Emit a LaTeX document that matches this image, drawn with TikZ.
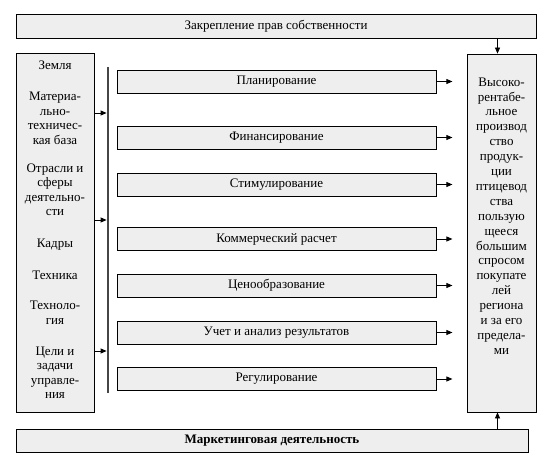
\documentclass[tikz,border=0pt]{standalone}
\usepackage{fontspec}
\setmainfont{Liberation Serif}
\usetikzlibrary{arrows.meta,positioning}
\begin{document}
\begin{tikzpicture}[x=1pt,y=-1pt,>={Triangle[length=6pt,width=5pt]},
  every node/.style={font=\fontsize{13}{14.5}\selectfont},
  panel/.style={draw,fill=gray!13,line width=0.8pt,inner sep=0pt},
  stepbox/.style={panel,minimum width=319pt,minimum height=23pt},
  item/.style={align=center,inner sep=0pt}]
  \useasboundingbox (0,0) rectangle (556,470);
  \node[panel,minimum width=520pt,minimum height=24pt] (rights) at (276,26) {Закрепление прав собственности};
  \node[panel,minimum width=78pt,minimum height=359pt] (src) at (55,232.5) {};
  \node[panel,minimum width=69pt,minimum height=358pt] (goal) at (501.5,233) {};
  \node[panel,minimum width=512pt,minimum height=23pt,font=\fontsize{13}{14.5}\selectfont\bfseries] (mkt) at (272,440.5) {Маркетинговая деятельность};
  \node[fill=gray!55!black,minimum width=2.4pt,minimum height=326pt,inner sep=0pt] (bar) at (108,230) {};
  % resources
  \node[item] (land) at (55,65) {Земля};
  \node[item] (base) at (55,118.5) {Материа-\\льно-\\техничес-\\кая база};
  \node[item] (branch) at (55,190) {Отрасли и\\сферы\\деятельно-\\сти};
  \node[item] (staff) at (55,245) {Кадры};
  \node[item] (tech) at (55,275) {Техника};
  \node[item] (techn) at (55,312.5) {Техноло-\\гия};
  \node[item] (aims) at (55,372.5) {Цели и\\задачи\\управле-\\ния};
  \node[item,font=\fontsize{13}{14.9}\selectfont] (goaltext) at (501.5,216) {Высоко-\\рентабе-\\льное\\производ\\ство\\продук-\\ции\\птицевод\\ства\\пользую\\щееся\\большим\\спросом\\покупате\\лей\\региона\\и за его\\предела-\\ми};
  % functions
  \node[stepbox] (f1) at (276.5,81.5) {Планирование};
  \node[stepbox] (f2) at (276.5,137.5) {Финансирование};
  \node[stepbox] (f3) at (276.5,184.5) {Стимулирование};
  \node[stepbox] (f4) at (276.5,239) {Коммерческий расчет};
  \node[stepbox] (f5) at (276.5,285.5) {Ценообразование};
  \node[stepbox] (f6) at (276.5,332.5) {Учет и анализ результатов};
  \node[stepbox] (f7) at (276.5,379) {Регулирование};
  \coordinate (in1) at (94,113);
  \coordinate (in2) at (94,220);
  \coordinate (in3) at (94,351);
  \draw[->,thick] (src.east |- in1) -- (bar.west |- in1);
  \draw[->,thick] (src.east |- in2) -- (bar.west |- in2);
  \draw[->,thick] (src.east |- in3) -- (bar.west |- in3);
  \draw[->,thick] (f1.east) -- ++(16,0);
  \draw[->,thick] (f2.east) -- ++(16,0);
  \draw[->,thick] (f3.east) -- ++(16,0);
  \draw[->,thick] (f4.east) -- ++(16,0);
  \draw[->,thick] (f5.east) -- ++(16,0);
  \draw[->,thick] (f6.east) -- ++(16,0);
  \draw[->,thick] (f7.east) -- ++(16,0);
  \draw[->,thick] ([xshift=-4pt]goal.north |- rights.south) -- ([xshift=-4pt]goal.north);
  \draw[->,thick] ([xshift=-4pt]goal.south |- mkt.north) -- ([xshift=-4pt]goal.south);
\end{tikzpicture}
\end{document}
